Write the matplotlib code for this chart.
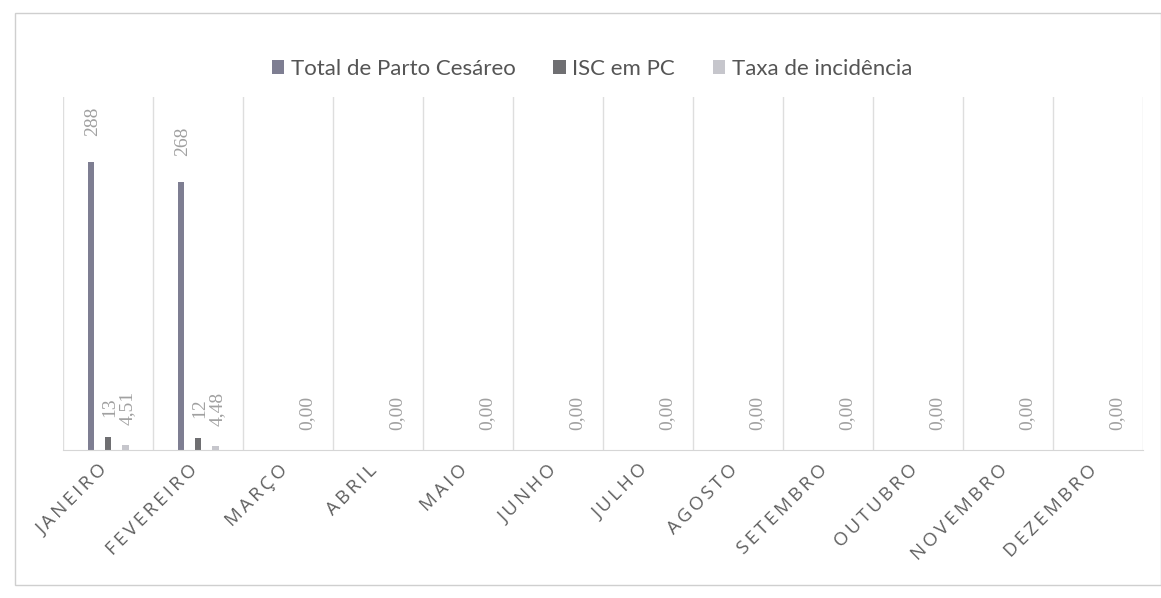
import numpy as np
import matplotlib
matplotlib.use("Agg")
import matplotlib.pyplot as plt
from matplotlib.patches import Rectangle
from matplotlib.transforms import ScaledTranslation

# data
months = ["JANEIRO", "FEVEREIRO", "MARÇO", "ABRIL", "MAIO", "JUNHO",
          "JULHO", "AGOSTO", "SETEMBRO", "OUTUBRO", "NOVEMBRO", "DEZEMBRO"]
total_pc = [288, 268, np.nan, np.nan, np.nan, np.nan,
            np.nan, np.nan, np.nan, np.nan, np.nan, np.nan]
isc_pc = [13, 12, np.nan, np.nan, np.nan, np.nan,
          np.nan, np.nan, np.nan, np.nan, np.nan, np.nan]
taxa = [4.51, 4.48, 0, 0, 0, 0, 0, 0, 0, 0, 0, 0]

series_names = ["Total de Parto Cesáreo", "ISC em PC", "Taxa de incidência"]
colors = ["#7e7e92", "#6f6f72", "#c6c6cc"]

fig = plt.figure(figsize=(11.61, 5.98), dpi=100)
ax = fig.add_axes([0.0543, 0.2475, 0.9302, 0.5903])

x = np.arange(len(months))
w = 0.075
step = 0.19
series = [total_pc, isc_pc, taxa]
for i, (vals, name, c) in enumerate(zip(series, series_names, colors)):
    bars = ax.bar(x + (i - 1) * step, vals, width=w, color=c, label=name)
    for b, v in zip(bars, vals):
        if np.isnan(v):
            continue
        if i == 2:
            txt = f"{v:.2f}".replace(".", ",")
        else:
            txt = f"{v:.0f}"
        # big bars get their label a bit higher, like in the scan
        off = 26 if v > 100 else 20
        ax.annotate(txt, (b.get_x() + b.get_width() / 2, b.get_height()),
                    xytext=(2, off), textcoords="offset pixels",
                    rotation=90, ha="center", va="bottom",
                    fontsize=14, color="#a0a0a0", family="Liberation Serif")

ax.set_xlim(-0.5, len(months) - 0.5)
ax.set_ylim(0, 353)
ax.set_yticks([])

# category separators
ax.set_xticks(x + 0.5, minor=True)
ax.grid(axis="x", which="minor", color="#dedede", linewidth=1)
ax.tick_params(axis="x", which="both", length=0)
for s in ["top", "right", "left"]:
    ax.spines[s].set_visible(False)
ax.spines["bottom"].set_color("#d6d6d6")
ax.axvline(-0.5, color="#dedede", linewidth=1)

spaced = ["\u2009".join(m) for m in months]
ax.set_xticks(x)
ax.set_xticklabels(spaced, rotation=45, ha="right", rotation_mode="anchor",
                   fontsize=13.5, color="#606060", family="Open Sans")
ax.tick_params(axis="x", which="major", pad=8)
shift = ScaledTranslation(-10 / 100, 0, fig.dpi_scale_trans)
for lab in ax.get_xticklabels():
    lab.set_transform(lab.get_transform() + shift)

leg = fig.legend(loc="center", bbox_to_anchor=(0.51, 0.885), ncol=3,
                 frameon=False, handlelength=0.55, handleheight=0.55,
                 handletextpad=0.3, columnspacing=1.7,
                 prop={"family": "Lato", "size": 16})
for t in leg.get_texts():
    t.set_color("#555555")

# chart frame
fig.patches.append(Rectangle((15 / 1161, 1 - 585 / 598), (1161 - 15) / 1161, (585 - 13) / 598,
                             transform=fig.transFigure, fill=False,
                             edgecolor="#cfcfcf", linewidth=1))

fig.savefig("out.png", dpi=100, facecolor="white")
